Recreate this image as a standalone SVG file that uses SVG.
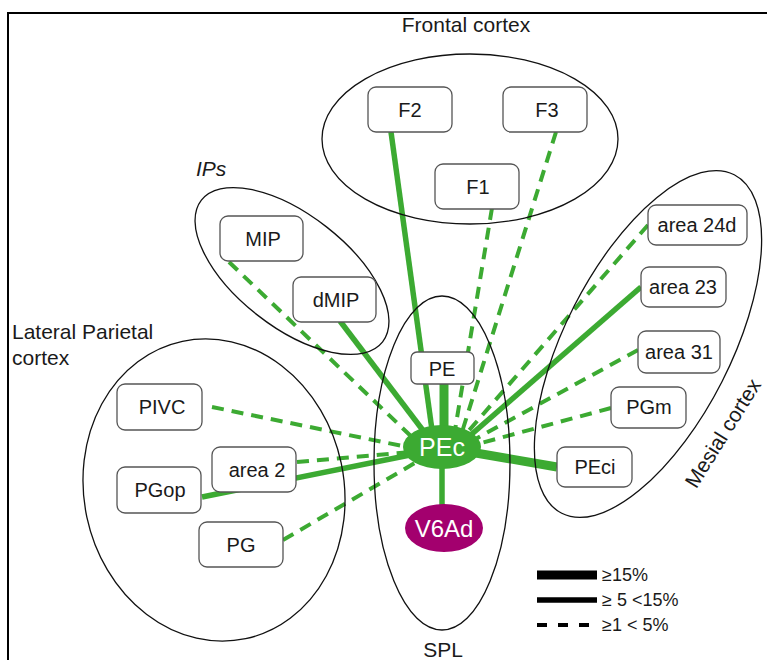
<svg xmlns="http://www.w3.org/2000/svg" width="767" height="660" viewBox="0 0 767 660">
  <style>
    text { font-family: "Liberation Sans", Arial, sans-serif; fill: #1a1a1a; }
    .region { fill: none; stroke: #111; stroke-width: 1.3; }
    .box rect { fill: #fff; stroke: #555; stroke-width: 1.3; }
    .box text { font-size: 20px; text-anchor: middle; }
    .lbl { font-size: 21px; }
    .c { fill: none; stroke: #3caa32; stroke-linecap: butt; }
    .thick { stroke-width: 9; }
    .mid { stroke-width: 5.5; }
    .dash { stroke-width: 4; stroke-dasharray: 12 8; }
    .leg { fill: none; stroke: #000; }
    .legtxt { font-size: 18px; }
  </style>

  <!-- frame -->
  <path d="M8,660 V13 H767" fill="none" stroke="#000" stroke-width="2"/>

  <!-- region labels -->
  <text class="lbl" x="466" y="32" text-anchor="middle" font-size="21.5">Frontal cortex</text>
  <text class="lbl" x="196" y="176" font-style="italic">IPs</text>
  <text class="lbl" x="12" y="339" font-size="24.5">Lateral Parietal</text>
  <text class="lbl" x="12" y="365" font-size="24.5">cortex</text>
  <text class="lbl" x="443" y="657" text-anchor="middle" font-size="27">SPL</text>
  <text class="lbl" x="0" y="0" text-anchor="middle" font-size="19.5" transform="translate(729,437) rotate(-58)">Mesial cortex</text>

  <!-- connectors -->
  <g id="connectors">
    <path class="c mid" d="M391,132 L432,430"/>
    <path class="c dash" d="M492,208 L455,430"/>
    <path class="c dash" d="M556,132 L462,432"/>
    <path class="c dash" d="M229,262 L415,440"/>
    <path class="c mid" d="M340,321 L428,437"/>
    <path class="c dash" d="M212,407 L412,448"/>
    <path class="c dash" d="M297,462 L412,452"/>
    <path class="c mid" d="M202,497 L420,453"/>
    <path class="c dash" d="M283,540 L420,460"/>
    <path class="c dash" d="M648,225 L465,435"/>
    <path class="c mid" d="M641,287 L465,440"/>
    <path class="c dash" d="M638,350 L470,442"/>
    <path class="c dash" d="M611,408 L470,446"/>
    <path class="c thick" d="M557,467 L470,452"/>
    <path class="c thick" d="M444,384 L444,432"/>
    <path class="c mid" d="M442,465 L442,508"/>
  </g>

  <!-- brain regions -->
  <g id="frontal-cortex"><ellipse class="region" cx="470" cy="139" rx="148" ry="85"/></g>
  <g id="ips"><ellipse class="region" cx="0" cy="0" rx="115" ry="56" transform="translate(292,271) rotate(38)"/></g>
  <g id="lateral-parietal"><ellipse class="region" cx="0" cy="0" rx="130" ry="152" transform="translate(214,490) rotate(-12)"/></g>
  <g id="spl"><ellipse class="region" cx="442" cy="463" rx="68" ry="167"/></g>
  <g id="mesial-cortex"><ellipse class="region" cx="0" cy="0" rx="83" ry="190" transform="translate(648,344) rotate(27)"/></g>

  <!-- areas -->
  <g id="F2" class="box"><rect x="368" y="87" width="84" height="45" rx="8"/><text x="410" y="117">F2</text></g>
  <g id="F3" class="box"><rect x="503" y="87" width="84" height="45" rx="8"/><text x="547" y="117">F3</text></g>
  <g id="F1" class="box"><rect x="435" y="164" width="84" height="45" rx="8"/><text x="478" y="194">F1</text></g>
  <g id="MIP" class="box"><rect x="220" y="216" width="83" height="45" rx="8"/><text x="263" y="246">MIP</text></g>
  <g id="dMIP" class="box"><rect x="293" y="277" width="83" height="45" rx="8"/><text x="336" y="307">dMIP</text></g>
  <g id="PIVC" class="box"><rect x="117" y="384" width="85" height="46" rx="8"/><text x="162" y="414">PIVC</text></g>
  <g id="PGop" class="box"><rect x="117" y="467" width="84" height="46" rx="8"/><text x="160" y="497">PGop</text></g>
  <g id="area2" class="box"><rect x="212" y="447" width="84" height="45" rx="8"/><text x="257" y="477">area 2</text></g>
  <g id="PG" class="box"><rect x="199" y="522" width="84" height="45" rx="8"/><text x="241" y="552">PG</text></g>
  <g id="PE" class="box"><rect x="411" y="352" width="63" height="32" rx="6"/><text x="442" y="376">PE</text></g>
  <g id="area24d" class="box"><rect x="648" y="205" width="99" height="40" rx="8"/><text x="697" y="232">area 24d</text></g>
  <g id="area23" class="box"><rect x="641" y="267" width="85" height="40" rx="8"/><text x="683" y="294">area 23</text></g>
  <g id="area31" class="box"><rect x="638" y="331" width="82" height="42" rx="8"/><text x="679" y="359">area 31</text></g>
  <g id="PGm" class="box"><rect x="611" y="387" width="75" height="41" rx="8"/><text x="649" y="414">PGm</text></g>
  <g id="PEci" class="box"><rect x="557" y="447" width="75" height="40" rx="8"/><text x="595" y="474">PEci</text></g>

  <g id="PEc">
    <ellipse cx="442" cy="447" rx="39" ry="22" fill="#3caa32"/>
    <text x="442" y="456" text-anchor="middle" font-size="25" style="fill:#fff">PEc</text>
  </g>
  <g id="V6Ad">
    <ellipse cx="444" cy="528" rx="39" ry="24" fill="#a3006e"/>
    <text x="444" y="537" text-anchor="middle" font-size="24" style="fill:#fff">V6Ad</text>
  </g>

  <!-- legend -->
  <g id="legend">
    <path class="leg" d="M537,575 H597" stroke-width="9"/>
    <path class="leg" d="M537,600 H597" stroke-width="5.5"/>
    <path class="leg" d="M537,625 H592" stroke-width="4" stroke-dasharray="10 11"/>
    <text class="legtxt" x="602" y="581">≥15%</text>
    <text class="legtxt" x="602" y="606">≥ 5 &lt;15%</text>
    <text class="legtxt" x="602" y="631">≥1 &lt; 5%</text>
  </g>
</svg>
